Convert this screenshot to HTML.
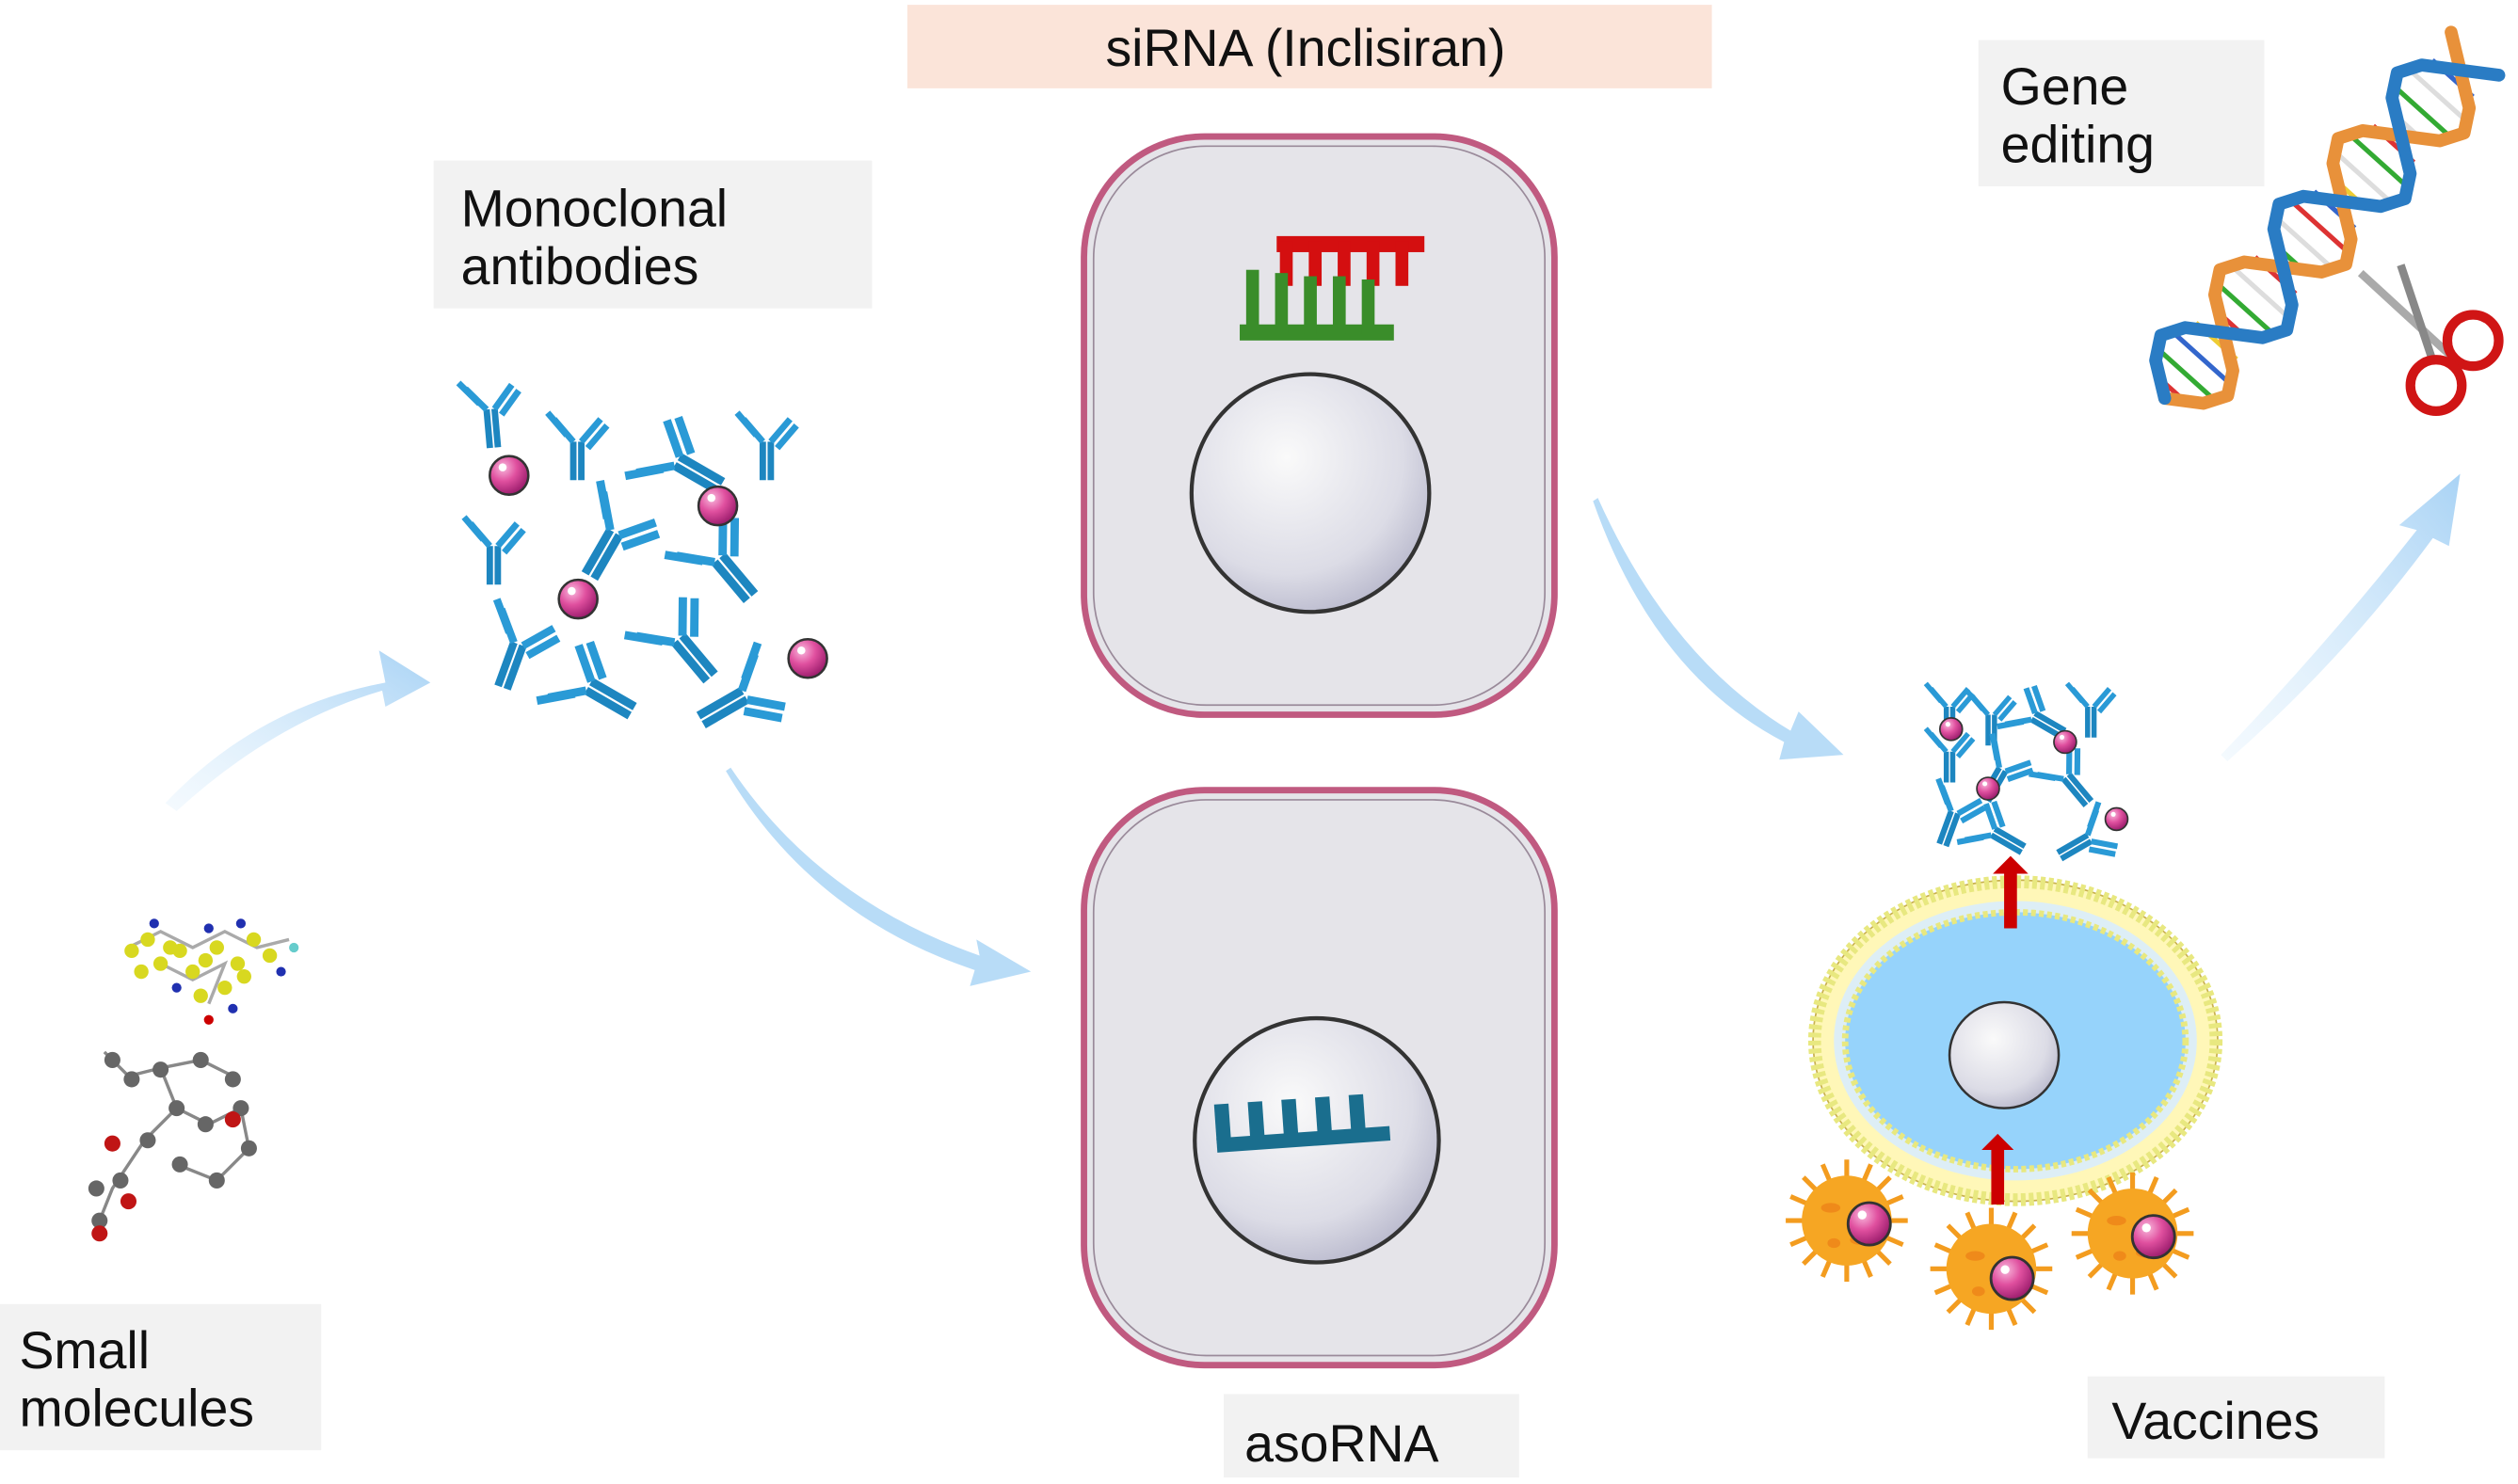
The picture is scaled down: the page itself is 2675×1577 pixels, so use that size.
<!DOCTYPE html>
<html><head><meta charset="utf-8"><style>
html,body{margin:0;padding:0;background:#fff;}
svg{display:block;}
text{font-family:"Liberation Sans",sans-serif;fill:#111;}
</style></head><body>
<svg width="2675" height="1577" viewBox="0 0 1568 924" preserveAspectRatio="none" xmlns="http://www.w3.org/2000/svg">
<defs>
<radialGradient id="nuc" cx="0.4" cy="0.35" r="0.7"><stop offset="0" stop-color="#fafafa"/><stop offset="0.7" stop-color="#dcdce6"/><stop offset="1" stop-color="#b8b8cc"/></radialGradient>
<radialGradient id="pink" cx="0.35" cy="0.3" r="0.7"><stop offset="0" stop-color="#f8b8dc"/><stop offset="0.5" stop-color="#e0509f"/><stop offset="1" stop-color="#a02070"/></radialGradient>
<linearGradient id="arr" x1="0" y1="1" x2="1" y2="0"><stop offset="0" stop-color="#dbeefc" stop-opacity="0.3"/><stop offset="1" stop-color="#a9d3f5"/></linearGradient>
<g id="ab" fill="none" stroke-linecap="butt">
<path d="M0,0 L0,24 M5,0 L5,24" stroke="#1d86c0" stroke-width="4"/>
<path d="M0,0 L-12,-14 M-4,-4 L-16,-18 M5,0 L17,-14 M9,4 L21,-10" stroke="#2a9ad6" stroke-width="4"/>
</g>
<g id="ball"><circle r="12" fill="url(#pink)" stroke="#333" stroke-width="1.5"/><circle cx="-4" cy="-5" r="2.5" fill="#fff"/></g>
<g id="ballS"><circle r="7" fill="url(#pink)" stroke="#333" stroke-width="1"/><circle cx="-2" cy="-3" r="1.5" fill="#fff"/></g>
<g id="virus">
<g stroke="#f39c1f" stroke-width="3">
<line x1="-38" y1="0" x2="38" y2="0"/><line x1="0" y1="-38" x2="0" y2="38"/>
<line x1="-27" y1="-27" x2="27" y2="27"/><line x1="-27" y1="27" x2="27" y2="-27"/>
<line x1="-35" y1="-15" x2="35" y2="15"/><line x1="-35" y1="15" x2="35" y2="-15"/>
<line x1="-15" y1="-35" x2="15" y2="35"/><line x1="15" y1="-35" x2="-15" y2="35"/>
</g>
<circle r="28" fill="#f6a623"/>
<ellipse cx="-10" cy="-8" rx="6" ry="3" fill="#ef8a1a"/><ellipse cx="8" cy="12" rx="6" ry="3" fill="#ef8a1a"/><ellipse cx="-8" cy="14" rx="4" ry="3" fill="#ef8a1a"/>
</g>
</defs>

<!-- label boxes -->
<rect x="565" y="3" width="501" height="52" fill="#fbe4d9"/>
<text x="813" y="41" font-size="32.5" text-anchor="middle">siRNA (Inclisiran)</text>
<rect x="270" y="100" width="273" height="92" fill="#f2f2f2"/>
<text x="287" y="141" font-size="32.5">Monoclonal</text>
<text x="287" y="177" font-size="32.5">antibodies</text>
<rect x="1232" y="25" width="178" height="91" fill="#f2f2f2"/>
<text x="1246" y="65" font-size="32.5">Gene</text>
<text x="1246" y="101" font-size="32.5">editing</text>
<rect x="0" y="812" width="200" height="91" fill="#f2f2f2"/>
<text x="12" y="852" font-size="32.5">Small</text>
<text x="12" y="888" font-size="32.5">molecules</text>
<rect x="762" y="868" width="184" height="52" fill="#f2f2f2"/>
<text x="775" y="910" font-size="32.5">asoRNA</text>
<rect x="1300" y="857" width="185" height="51" fill="#f2f2f2"/>
<text x="1315" y="896" font-size="32.5">Vaccines</text>

<!-- arrows -->
<path d="M103,500 Q160,440 240,425 L236,405 L268,425 L240,440 L238,430 Q170,450 110,505 Z" fill="url(#arr)"/>
<path d="M455,478 Q510,560 610,595 L608,585 L642,605 L604,614 L607,604 Q505,570 452,480 Z" fill="#b8dcf7"/>
<path d="M995,310 Q1040,410 1115,455 L1120,443 L1148,470 L1108,473 L1111,462 Q1030,420 992,312 Z" fill="#b8dcf7"/>
<path d="M1383,470 Q1450,400 1505,330 L1494,327 L1532,295 L1525,340 L1515,335 Q1460,410 1387,474 Z" fill="url(#arr)"/>

<!-- cells -->
<g>
<rect x="675" y="85" width="293" height="360" rx="75" fill="#e5e4e9" stroke="#c05a80" stroke-width="4"/>
<rect x="681" y="91" width="281" height="348" rx="70" fill="none" stroke="#9a8a9a" stroke-width="1"/>
<circle cx="816" cy="307" r="74" fill="url(#nuc)" stroke="#333" stroke-width="2.5"/>
<g fill="#d40f10"><rect x="795" y="147" width="92" height="10"/><rect x="797" y="150" width="8" height="28"/><rect x="815" y="150" width="8" height="28"/><rect x="833" y="150" width="8" height="28"/><rect x="851" y="150" width="8" height="28"/><rect x="869" y="150" width="8" height="28"/></g>
<g fill="#3a8d2a"><rect x="772" y="202" width="96" height="10"/><rect x="776" y="168" width="8" height="40"/><rect x="794" y="170" width="8" height="38"/><rect x="812" y="172" width="8" height="36"/><rect x="830" y="172" width="8" height="36"/><rect x="848" y="174" width="8" height="34"/></g>
</g>
<g>
<rect x="675" y="492" width="293" height="358" rx="75" fill="#e5e4e9" stroke="#c05a80" stroke-width="4"/>
<rect x="681" y="498" width="281" height="346" rx="70" fill="none" stroke="#9a8a9a" stroke-width="1"/>
<circle cx="820" cy="710" r="76" fill="url(#nuc)" stroke="#333" stroke-width="2.5"/>
<g fill="#1a6e8e" transform="rotate(-4 810 700)"><rect x="757" y="705" width="108" height="9"/><rect x="757" y="684" width="9" height="24"/><rect x="778" y="684" width="9" height="24"/><rect x="799" y="684" width="9" height="24"/><rect x="820" y="684" width="9" height="24"/><rect x="841" y="684" width="9" height="24"/></g>
</g>

<!-- antibody cluster -->
<g>
<use href="#ab" transform="translate(303,255) rotate(-5)"/>
<use href="#ab" transform="translate(357,275)"/>
<use href="#ab" transform="translate(475,275)"/>
<use href="#ab" transform="translate(305,340)"/>
<use href="#ab" transform="translate(420,290) rotate(-60) scale(1.3)"/>
<use href="#ab" transform="translate(380,330) rotate(30) scale(1.3)"/>
<use href="#ab" transform="translate(445,350) rotate(-40) scale(1.3)"/>
<use href="#ab" transform="translate(320,400) rotate(20) scale(1.2)"/>
<use href="#ab" transform="translate(420,400) rotate(-40) scale(1.3)"/>
<use href="#ab" transform="translate(365,430) rotate(-60) scale(1.3)"/>
<use href="#ab" transform="translate(462,430) rotate(60) scale(1.3)"/>
<use href="#ball" transform="translate(317,296)"/>
<use href="#ball" transform="translate(447,315)"/>
<use href="#ball" transform="translate(360,373)"/>
<use href="#ball" transform="translate(503,410)"/>
</g>

<!-- vaccine -->
<g>
<use href="#ab" transform="translate(1212,440) scale(0.8)"/>
<use href="#ab" transform="translate(1238,445) scale(0.8)"/>
<use href="#ab" transform="translate(1300,440) scale(0.8)"/>
<use href="#ab" transform="translate(1212,468) scale(0.8)"/>
<use href="#ab" transform="translate(1265,448) rotate(-60) scale(0.9)"/>
<use href="#ab" transform="translate(1245,478) rotate(30) scale(0.9)"/>
<use href="#ab" transform="translate(1285,485) rotate(-40) scale(0.9)"/>
<use href="#ab" transform="translate(1215,505) rotate(20) scale(0.9)"/>
<use href="#ab" transform="translate(1240,520) rotate(-60) scale(0.9)"/>
<use href="#ab" transform="translate(1300,520) rotate(60) scale(0.9)"/>
<use href="#ballS" transform="translate(1215,454)"/>
<use href="#ballS" transform="translate(1286,462)"/>
<use href="#ballS" transform="translate(1238,491)"/>
<use href="#ballS" transform="translate(1318,510)"/>
<ellipse cx="1255" cy="648" rx="126" ry="100" fill="#fff7b8" stroke="#c8b050" stroke-width="1"/>
<ellipse cx="1255" cy="648" rx="125" ry="99" fill="none" stroke="#e8e880" stroke-width="8" stroke-dasharray="3 2"/>
<ellipse cx="1255" cy="648" rx="113" ry="87" fill="#ddeef6"/>
<ellipse cx="1255" cy="648" rx="106" ry="80" fill="#96d3fb" stroke="#e8e880" stroke-width="4" stroke-dasharray="3 2"/>
<ellipse cx="1248" cy="657" rx="34" ry="33" fill="url(#nuc)" stroke="#333" stroke-width="1.5"/>
<path d="M1248,578 L1248,544 L1241,544 L1252,533 L1263,544 L1256,544 L1256,578 Z" fill="#c00"/>
<path d="M1240,750 L1240,716 L1234,716 L1244,706 L1254,716 L1248,716 L1248,750 Z" fill="#c00"/>
<use href="#virus" transform="translate(1150,760)"/>
<use href="#virus" transform="translate(1240,790)"/>
<use href="#virus" transform="translate(1328,768)"/>
<use href="#ball" transform="translate(1164,762) scale(1.1)"/>
<use href="#ball" transform="translate(1253,796) scale(1.1)"/>
<use href="#ball" transform="translate(1341,770) scale(1.1)"/>
</g>

<!-- small molecules -->
<g>
<g stroke="#aaa" stroke-width="2" fill="none"><path d="M80,590 L100,580 L120,590 L140,580 L160,590 L180,585 M100,600 L120,610 L140,600 L130,625"/></g>
<g fill="#d8d820"><circle cx="82" cy="592" r="4.5"/><circle cx="92" cy="585" r="4.5"/><circle cx="100" cy="600" r="4.5"/><circle cx="112" cy="592" r="4.5"/><circle cx="120" cy="605" r="4.5"/><circle cx="135" cy="590" r="4.5"/><circle cx="148" cy="600" r="4.5"/><circle cx="158" cy="585" r="4.5"/><circle cx="168" cy="595" r="4.5"/><circle cx="125" cy="620" r="4.5"/><circle cx="140" cy="615" r="4.5"/><circle cx="88" cy="605" r="4.5"/><circle cx="106" cy="590" r="4.5"/><circle cx="128" cy="598" r="4.5"/><circle cx="152" cy="608" r="4.5"/></g>
<g fill="#2030b0"><circle cx="96" cy="575" r="3"/><circle cx="130" cy="578" r="3"/><circle cx="150" cy="575" r="3"/><circle cx="175" cy="605" r="3"/><circle cx="110" cy="615" r="3"/><circle cx="145" cy="628" r="3"/></g>
<circle cx="183" cy="590" r="3" fill="#6cc"/><circle cx="130" cy="635" r="3" fill="#c00"/>
<g stroke="#888" stroke-width="2" fill="none"><path d="M65,655 L80,670 L100,665 L110,690 L90,710 L70,740 L60,765 M110,690 L130,700 L150,690 L155,715 L135,735 L110,725 M100,665 L125,660 L145,670"/></g>
<g fill="#666"><circle cx="70" cy="660" r="5"/><circle cx="82" cy="672" r="5"/><circle cx="100" cy="666" r="5"/><circle cx="110" cy="690" r="5"/><circle cx="92" cy="710" r="5"/><circle cx="75" cy="735" r="5"/><circle cx="62" cy="760" r="5"/><circle cx="128" cy="700" r="5"/><circle cx="150" cy="690" r="5"/><circle cx="155" cy="715" r="5"/><circle cx="135" cy="735" r="5"/><circle cx="112" cy="725" r="5"/><circle cx="125" cy="660" r="5"/><circle cx="145" cy="672" r="5"/><circle cx="60" cy="740" r="5"/></g>
<g fill="#c01515"><circle cx="70" cy="712" r="5"/><circle cx="145" cy="697" r="5"/><circle cx="80" cy="748" r="5"/><circle cx="62" cy="768" r="5"/></g>
</g>

<!-- DNA helix -->
<g transform="translate(1348,248) rotate(-48)">
<g stroke-width="3">
<line x1="7" y1="-10" x2="7" y2="10" stroke="#d33"/><line x1="20" y1="-24" x2="20" y2="24" stroke="#3a3"/><line x1="34" y1="-27" x2="34" y2="27" stroke="#36c"/><line x1="48" y1="-17" x2="48" y2="17" stroke="#ec3"/>
<line x1="62" y1="-10" x2="62" y2="10" stroke="#d33"/><line x1="75" y1="-24" x2="75" y2="24" stroke="#3a3"/><line x1="89" y1="-27" x2="89" y2="27" stroke="#ddd"/><line x1="103" y1="-17" x2="103" y2="17" stroke="#d33"/>
<line x1="117" y1="-10" x2="117" y2="10" stroke="#3a3"/><line x1="130" y1="-24" x2="130" y2="24" stroke="#ddd"/><line x1="144" y1="-27" x2="144" y2="27" stroke="#d33"/><line x1="158" y1="-17" x2="158" y2="17" stroke="#36c"/>
<line x1="172" y1="-10" x2="172" y2="10" stroke="#ec3"/><line x1="185" y1="-24" x2="185" y2="24" stroke="#ddd"/><line x1="199" y1="-27" x2="199" y2="27" stroke="#3a3"/><line x1="213" y1="-17" x2="213" y2="17" stroke="#d33"/>
<line x1="227" y1="-10" x2="227" y2="10" stroke="#ddd"/><line x1="240" y1="-24" x2="240" y2="24" stroke="#3a3"/><line x1="254" y1="-27" x2="254" y2="27" stroke="#ddd"/><line x1="268" y1="-17" x2="268" y2="17" stroke="#36c"/>
</g>
<polyline fill="none" stroke="#e8913a" stroke-width="8" stroke-linejoin="round" stroke-linecap="round" points="0,0 13.75,20 27.5,28 41.25,20 55,0 68.75,-20 82.5,-28 96.25,-20 110,0 123.75,20 137.5,28 151.25,20 165,0 178.75,-20 192.5,-28 206.25,-20 220,0 233.75,20 247.5,28 261.25,20 275,0 288.75,-20"/>
<polyline fill="none" stroke="#2a7cc4" stroke-width="8" stroke-linejoin="round" stroke-linecap="round" points="0,0 13.75,-20 27.5,-28 41.25,-20 55,0 68.75,20 82.5,28 96.25,20 110,0 123.75,-20 137.5,-28 151.25,-20 165,0 178.75,20 192.5,28 206.25,20 220,0 233.75,-20 247.5,-28 261.25,-20 275,0 288.75,20"/>
</g>
<!-- scissors -->
<g>
<line x1="1470" y1="170" x2="1530" y2="225" stroke="#aaa" stroke-width="5"/>
<line x1="1495" y1="165" x2="1515" y2="225" stroke="#888" stroke-width="5"/>
<circle cx="1540" cy="212" r="16" fill="none" stroke="#d01515" stroke-width="6"/>
<circle cx="1517" cy="240" r="16" fill="none" stroke="#d01515" stroke-width="6"/>
</g>
</svg>
</body></html>
